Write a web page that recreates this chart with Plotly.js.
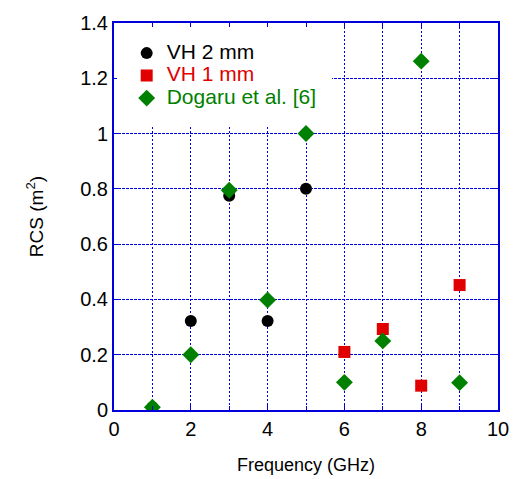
<!DOCTYPE html>
<html><head><meta charset="utf-8">
<script src="https://cdn.plot.ly/plotly-3.0.1.min.js"></script>
<style>html,body{margin:0;padding:0;background:#fff}#c{width:515px;height:479px}</style>
</head><body><div id="c"></div>
<script>
const vh2Freq = [1, 2, 3, 4, 5];
const vh2Rcs = [0.01, 0.322, 0.775, 0.322, 0.80];
const vh1Freq = [6, 7, 8, 9];
const vh1Rcs = [0.21, 0.293, 0.088, 0.452];
const dogFreq = [1, 2, 3, 4, 5, 6, 7, 8, 9];
const dogRcs = [0.01, 0.2, 0.795, 0.398, 1.0, 0.10, 0.25, 1.262, 0.099];
const seriesNames = ['VH 2 mm', 'VH 1 mm', 'Dogaru et al. [6]'];
const xTicks = [0, 2, 4, 6, 8, 10];
const yTicks = [0, 0.2, 0.4, 0.6, 0.8, 1, 1.2, 1.4];
const yTickText = ['0', '0.2', '0.4', '0.6', '0.8', '1', '1.2', '1.4'];

const blue = '#0000dd';
const font = "Arial, 'Liberation Sans', sans-serif";

function legName(name, color) {
  return '<span style="color:' + color + ';font-size:21px">' + name + '</span>';
}

const traces = [
  {x: vh2Freq, y: vh2Rcs, mode: 'markers', type: 'scatter',
   name: legName(seriesNames[0], '#000000'),
   marker: {symbol: 'circle', size: 12, color: '#000000'}},
  {x: vh1Freq, y: vh1Rcs, mode: 'markers', type: 'scatter',
   name: legName(seriesNames[1], '#e00000'),
   marker: {symbol: 'square', size: 12, color: '#e00000'}},
  {x: dogFreq, y: dogRcs, mode: 'markers', type: 'scatter',
   name: legName(seriesNames[2], '#008000'),
   marker: {symbol: 'diamond', size: 13, color: '#008000'}}
];

const layout = {
  width: 515, height: 479,
  margin: {l: 114, r: 17, t: 23, b: 69},
  paper_bgcolor: '#fff', plot_bgcolor: '#fff',
  font: {family: font, size: 20, color: '#000'},
  showlegend: true,
  legend: {x: 0.007, y: 0.99, xanchor: 'left', yanchor: 'top',
           bgcolor: '#ffffff', bordercolor: '#ffffff', borderwidth: 10,
           font: {size: 15, family: font},
           tracegroupgap: 0},
  xaxis: {range: [0, 10], tickvals: xTicks, ticktext: xTicks.map(String),
          showline: true, linecolor: blue, linewidth: 2, mirror: 'ticks',
          ticks: 'inside', ticklen: 5, tickcolor: blue, zeroline: false,
          showgrid: true, gridcolor: blue, griddash: '2px,2px', gridwidth: 1,
          minor: {dtick: 1, showgrid: true, gridcolor: blue, griddash: '2px,2px', gridwidth: 1,
                  ticks: 'inside', ticklen: 4, tickcolor: blue},
          tickfont: {size: 20, family: font},
          title: {text: 'Frequency (GHz)', font: {size: 18, family: font}, standoff: 19}},
  yaxis: {range: [0, 1.4], tickvals: yTicks, ticktext: yTickText,
          showline: true, linecolor: blue, linewidth: 2, mirror: 'ticks',
          ticks: 'inside', ticklen: 5, tickcolor: blue, zeroline: false,
          showgrid: true, gridcolor: blue, griddash: '3px,1px', gridwidth: 1,
          tickfont: {size: 20, family: font},
          title: {text: 'RCS (m<sup>2</sup>)', font: {size: 19, family: font}, standoff: 32}}
};

Plotly.newPlot('c', traces, layout, {displayModeBar: false, staticPlot: true});
</script></body></html>
